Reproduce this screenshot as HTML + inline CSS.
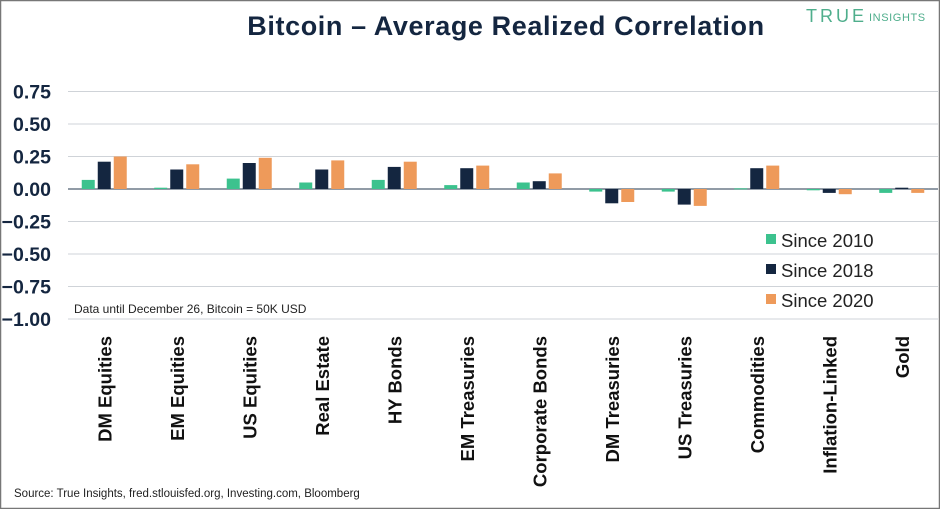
<!DOCTYPE html>
<html><head><meta charset="utf-8"><style>
body{margin:0;background:#fff;}
svg{display:block;font-family:"Liberation Sans",sans-serif;}
</style></head><body>
<svg id="c" width="940" height="509" viewBox="0 0 940 509">
<rect x="0.5" y="0.5" width="939" height="508" fill="#fff" stroke="#777" stroke-width="1.5"/>
<text x="506" y="35" text-anchor="middle" font-size="27" font-weight="bold" fill="#142640" letter-spacing="0.6">Bitcoin – Average Realized Correlation</text>
<text x="806" y="22" font-size="18" fill="#4fae8c" letter-spacing="3">TRUE</text>
<text x="869" y="21" font-size="11" fill="#4fae8c" letter-spacing="0.6">INSIGHTS</text>
<g id="grid"></g><g id="bars"></g><g id="xl"></g>
<text x="74" y="313" font-size="12" fill="#222">Data until December 26, Bitcoin = 50K USD</text>
<text x="14" y="497" font-size="11.5" fill="#222">Source: True Insights, fred.stlouisfed.org, Investing.com, Bloomberg</text>
<g id="legend"></g>
</svg>
<script>
const categories=["DM Equities","EM Equities","US Equities","Real Estate","HY Bonds","EM Treasuries","Corporate Bonds","DM Treasuries","US Treasuries","Commodities","Inflation-Linked","Gold"];
const since2010=[0.07,0.01,0.08,0.05,0.07,0.03,0.05,-0.02,-0.02,0.005,-0.01,-0.03];
const since2018=[0.21,0.15,0.20,0.15,0.17,0.16,0.06,-0.11,-0.12,0.16,-0.03,0.01];
const since2020=[0.25,0.19,0.24,0.22,0.21,0.18,0.12,-0.10,-0.13,0.18,-0.04,-0.03];
const ticks=[0.75,0.5,0.25,0,-0.25,-0.5,-0.75,-1];
const tickLabels=["0.75","0.50","0.25","0.00","−0.25","−0.50","−0.75","−1.00"];
const seriesNames=["Since 2010","Since 2018","Since 2020"];
const colors=["#3cc28e","#142640","#ee9a5a"];
const NS="http://www.w3.org/2000/svg";
const L=68,R=938;
const y=v=>189-v*130;
const x=i=>L+(R-L)/categories.length*(i+0.5);
function mk(t,a,p){const e=document.createElementNS(NS,t);for(const k in a)e.setAttribute(k,a[k]);p.appendChild(e);return e;}
const g=document.getElementById('grid');
ticks.forEach((t,i)=>{
 const ln=mk('line',{x1:L,x2:R,y1:y(t),y2:y(t),stroke:t===0?'#6d7a88':'#cfd3d8','stroke-width':t===0?1.5:1},g);
 
 
 const tx=mk('text',{x:51,y:y(t)+7,'text-anchor':'end','font-size':19.5,'font-weight':'bold',fill:'#142640'},g);
 tx.textContent=tickLabels[i];
 
 
});
const b=document.getElementById('bars');
[since2010,since2018,since2020].forEach((s,j)=>{
 s.forEach((v,i)=>{
  const cx=x(i)+(j-1)*16;
  const r=mk('rect',{x:cx-6.5,width:13,y:Math.min(y(v),y(0)),height:Math.max(Math.abs(y(v)-y(0)),1),fill:colors[j]},b);
  
  
 });
});
const xl=document.getElementById('xl');
categories.forEach((c,i)=>{
 const t=mk('text',{transform:`translate(${x(i)+7},336) rotate(-90)`,'text-anchor':'end','font-size':18.5,'font-weight':'bold',fill:'#111'},xl);
 t.textContent=c;
 
 
});
const lg=document.getElementById('legend');
seriesNames.forEach((n,j)=>{
 const yy=240+j*30;
 const r=mk('rect',{x:766,y:yy-6,width:10,height:10,fill:colors[j]},lg);
 
 
 const t=mk('text',{x:781,y:yy+7,'font-size':18.5,fill:'#222'},lg);
 t.textContent=n;
 
 
});
</script>
</body></html>
